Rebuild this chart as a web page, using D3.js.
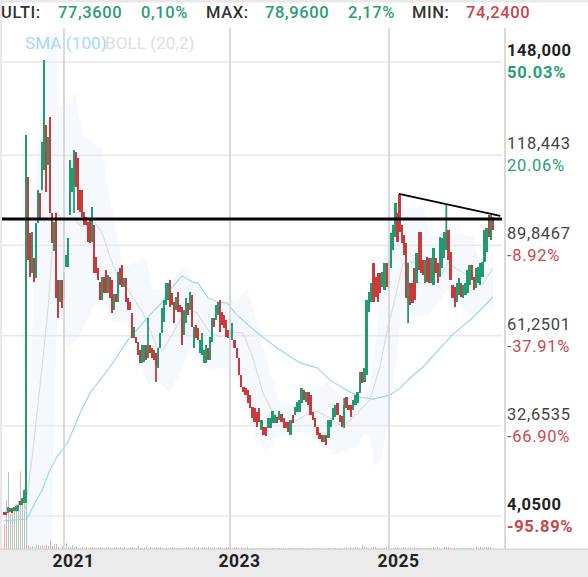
<!DOCTYPE html>
<html>
<head>
<meta charset="utf-8">
<script src="https://cdn.jsdelivr.net/npm/d3@7"></script>
<style>
  html, body { margin: 0; padding: 0; background: #fff; }
  svg { display: block; font-family: Roboto, sans-serif; }
</style>
</head>
<body>
<div id="chart"></div>
<script>
// Candles (one row = 10 bars)
var opens = [
  5.3,5.3,5.0,5.3,6.6,5.6,5.6,5.6,8.8,7.5,
  8.2,8.2,111.5,93.8,81.1,85.9,79.5,96.9,106.5,107.4,
  113.8,128.0,115.3,130.6,100.1,88.1,100.1,78.9,71.9,78.9,
  73.2,83.0,83.0,99.5,106.8,109.0,119.5,117.6,107.4,107.4,
  100.4,98.9,97.3,97.9,90.9,96.3,86.2,82.7,78.2,72.5,
  79.8,82.0,74.8,79.8,78.9,69.4,74.4,71.9,82.7,83.6,
  76.7,79.5,73.2,71.9,68.4,60.5,60.8,59.2,56.7,52.6,
  52.9,58.3,54.2,58.3,57.3,56.7,55.7,51.0,57.3,62.1,
  65.6,70.9,72.5,78.9,74.8,71.9,69.4,75.1,70.9,70.3,
  61.4,65.2,71.6,69.4,74.1,57.3,64.6,63.7,55.7,55.1,
  52.6,52.6,57.3,53.5,59.2,66.8,66.2,67.8,72.5,68.7,
  67.8,66.2,63.0,59.9,59.9,59.9,57.3,54.2,48.8,45.0,
  44.6,44.0,42.4,38.6,38.3,37.0,38.3,31.3,32.3,32.3,
  31.9,31.9,33.5,33.5,35.4,34.5,36.4,35.1,33.9,33.9,
  29.7,36.1,36.1,37.0,37.0,39.9,44.0,40.2,43.4,42.4,
  37.0,35.1,32.3,30.4,29.7,27.5,29.7,28.8,32.3,34.5,
  35.4,39.9,36.1,35.8,32.9,41.8,39.2,39.2,37.7,39.2,
  39.9,43.0,49.7,46.5,48.8,68.7,71.9,84.3,79.8,81.1,
  81.1,76.7,75.7,84.3,76.7,82.7,88.4,92.5,100.1,106.2,
  96.3,93.2,90.6,72.5,77.9,77.9,82.7,77.9,94.1,94.1,
  85.2,77.9,86.2,85.9,77.9,77.3,85.9,84.3,79.8,82.7,
  85.9,88.4,94.7,87.8,77.3,76.7,71.9,74.1,77.9,73.2,
  74.1,74.8,77.3,83.6,79.8,76.3,77.9,77.3,79.8,84.6,
  87.8,99.5,91.6,98.9
]
var closes = [
  4.4,4.4,6.9,6.6,5.0,6.9,7.2,7.5,7.5,9.8,
  12.3,125.0,85.2,79.8,94.1,78.2,96.9,107.4,97.9,122.6,
  148.6,106.8,124.2,100.1,90.6,97.3,73.2,66.8,78.9,70.0,
  81.1,86.8,92.2,116.9,114.4,120.1,108.4,101.1,100.4,98.9,
  96.3,96.3,90.9,90.6,102.0,81.1,81.1,78.9,72.5,79.8,
  74.8,74.8,80.5,73.2,68.4,74.4,71.9,81.4,77.3,76.7,
  79.5,71.9,69.4,69.4,60.5,64.0,58.9,55.1,52.6,58.3,
  58.3,53.5,58.3,55.7,54.2,53.5,51.9,57.3,62.1,70.0,
  72.5,77.9,77.9,70.3,70.9,65.2,73.5,68.7,68.7,58.3,
  69.4,73.2,67.8,75.1,64.0,64.0,60.5,59.9,59.9,62.1,
  56.7,58.3,53.5,60.8,66.8,64.0,70.9,71.9,62.4,64.6,
  63.7,60.8,60.5,63.0,65.2,57.3,54.2,48.8,45.0,43.4,
  42.4,39.9,38.3,35.1,33.9,32.3,33.9,34.5,29.7,29.4,
  35.1,35.1,37.3,36.1,33.5,37.3,33.9,31.9,31.9,30.7,
  34.5,33.5,38.6,40.2,40.8,44.6,40.8,43.4,39.2,36.1,
  34.5,32.3,29.7,28.5,27.5,29.7,26.6,34.5,34.5,38.3,
  39.2,36.1,33.9,32.3,39.2,38.3,37.7,35.4,40.8,42.4,
  43.4,49.7,46.2,51.0,72.5,75.1,77.9,71.9,73.5,71.9,
  74.8,81.4,84.3,76.7,85.2,93.8,96.3,103.3,90.9,94.1,
  90.6,86.8,73.2,84.3,70.9,71.6,72.5,87.4,82.0,81.1,
  80.5,85.2,78.2,77.9,85.9,89.0,81.1,77.9,92.5,92.2,
  94.1,94.1,85.2,78.9,73.2,70.3,77.9,79.5,73.5,77.3,
  77.9,82.0,83.6,78.9,75.7,82.7,83.0,84.3,84.6,94.7,
  95.4,92.5,99.5,94.7
]
// the few bars whose thin wick sticks out well past the body
var wickBars = [35, 72, 76, 164, 193, 211]
var wickHighs = [120.1, 66.8, 55.7, 41.5, 84.3, 102.7]
var wickLows = [100.1, 54.2, 46.5, 31.9, 65.2, 88.4]

var volumes = [
  25,49,77,35,40,42,45,48,78,50,
  60,65,4,2,3,2,4,4,3,4,
  3,4,3,8,3,5,5,2,1,3,
  2,6,2,2,4,2,3,1,1,2,
  1,2,1,1,2,1,1,1,2,1,
  1,2,2,1,1,2,1,1,2,1,
  2,1,1,2,1,1,1,3,1,1,
  2,3,1,2,1,1,2,1,2,1,
  1,1,1,1,2,1,1,1,1,1,
  1,2,1,1,1,2,1,2,1,2,
  1,1,2,1,1,2,1,2,1,1,
  1,2,2,1,1,2,1,1,2,1,
  1,2,1,1,1,1,1,1,1,1,
  1,1,1,1,1,1,1,1,1,1,
  1,1,1,1,1,1,1,1,1,1,
  1,1,1,1,1,1,1,1,1,1,
  1,1,1,1,1,1,1,2,1,2,
  2,1,4,2,2,1,1,2,2,1,
  1,1,1,2,1,1,1,1,2,1,
  1,2,1,1,1,1,2,1,1,1,
  1,1,1,1,1,2,1,2,1,1,
  2,2,2,1,1,1,1,1,1,1,
  1,1,1,1,1,2,1,2,1,2,
  2,2,2,1
]

// SMA (100)
var smaBars = [0,11.5,14.5,19,23,26.5,32,38,43,53,62,71.5,79.5,82,89,94.5,97,102,107,111.5,116,126.4,134,144.3,152,157.6,163.4,171,176.9,184.5,189.2,193.9,200,213.7,222.2,227.9,233]
var smaValues = [2.5,3.1,6.9,12.3,18.6,22.8,27.5,36.7,43.0,51.3,59.9,66.8,72.2,75.1,80.2,78.2,77.9,73.2,71.9,71.6,67.8,61.4,57.3,52.6,51.0,47.2,44.6,41.8,41.1,42.4,44.6,47.8,51.3,61.4,66.2,70.0,73.5]

// BOLL (20,2)
var bollBars = [0,10.5,12,14.5,19,22,24,26.5,29.5,34.5,39,45.5,49,53,57,62,69.5,76.5,79.5,84.5,91.5,96.5,103,108,114.3,118.8,123.3,127.7,132.2,138.4,141,147.4,151.8,157.6,163.4,167.9,175.4,179.9,183.5,185.9,190.6,195.3,208,211.8,215.1,220.8,227.9,233]
var bollValues = [5.6,5.9,12.3,25.0,51.3,69.4,87.4,100.1,97.9,98.5,95.7,97.0,93.8,86.2,79.8,75.7,68.4,57.6,56.7,62.1,70.0,68.4,62.1,60.8,62.4,62.1,54.2,43.0,36.7,33.5,33.5,36.4,37.3,35.1,32.3,35.4,40.8,51.3,64.0,70.3,84.3,84.6,79.8,84.3,82.7,80.5,77.3,82.7]

var upperBars = [11.5,16.5,19,21,26,27,33,35.5,38,39.5,44,46.5,49,51.5,55.5,59,63,69.5,72,74.5,80.5,89,98,103,111.5,116,120.6,125.5,130.9,135.3,141,150,156.3,163.4,172.4,175.4,178.6,180.9,183.6,190.6,200,204.3,207,211.4,216.1,223.6,226.9,233]
var upperValues = [9.1,112.8,141.3,157.2,157.2,133.7,135,138.5,129.6,124.2,123.3,120.7,121,110.6,95.7,84.3,83.6,85.9,83,75.7,75.7,83,76.7,71.9,71.9,72.5,76.3,64,49.4,39.9,39.2,44,46.5,41.8,40.8,44.9,63,82,97.9,101.7,102,91.6,89.3,89.3,93.8,92.5,83,83]
var lowerBars = [11.5,24,24.5,26.5,27,29.5,31.5,36.5,43,48,54.5,62,68,72,76.5,83,88,93,103,114.3,123.3,128.6,134,144.3,150,157.6,159,169.7,172.4,175.4,177.7,180.9,183.6,187.8,190.6,194.8,202.4,208,211.4,217.5,223.6,227.9,233]
var lowerValues = [-6.4,-6.4,25.9,65.2,75.7,64,57.6,59.9,68.4,73.5,65.2,66.2,53.5,45.6,47.2,43.4,49.4,57.6,50.3,51.3,31.3,24.3,29.1,30.7,29.1,25,23.4,25.9,30.4,29.1,19.6,22.8,33.5,54.5,75.7,67.2,67.8,72.5,75.7,70.3,67.1,71.6,69.4]

var priceTicks = [148, 118.443, 89.8467, 61.2501, 32.6535, 4.05]
var priceLabels = ['148,000', '118,443', '89,8467', '61,2501', '32,6535', '4,0500']
var pctLabels = ['50.03%', '20.06%', '-8.92%', '-37.91%', '-66.90%', '-95.89%']
var yearBars = [30, 113, 184]
var yearLabels = ['2021', '2023', '2025']

var headerLabels = ['ULTI:', '77,3600', '0,10%', 'MAX:', '78,9600', '2,17%', 'MIN:', '74,2400']
var headerKinds = ['k', 'g', 'g', 'k', 'g', 'g', 'k', 'r']
var headerLeft = [1, 58, 141, 206, 265, 348, 412, 466]

// drawings on the chart
var levelPrice = 98.2
var levelBars = [-1, 237.3]
var trendBars = [188.7, 236.4]
var trendPrices = [106.2, 99.2]

var width = 588, height = 577
var green = '#229b70', red = '#cb3a3a'

var svg = d3.select('#chart').append('svg')
  .attr('width', width)
  .attr('height', height)

var x = d3.scaleLinear().domain([0, 30, 113, 184, 233]).range([4, 64, 230, 389, 493])
var y = d3.scaleLinear().domain([4.05, 148]).range([516, 62])
var yVol = d3.scaleLinear().domain([0, 100]).range([549, 449])

// frame
svg.append('rect').attr('width', width).attr('height', 2.5).attr('fill', '#e9e9e9')
svg.append('rect').attr('width', 2).attr('height', height).attr('fill', '#e9e9e9')
svg.append('rect').attr('y', 549).attr('width', width).attr('height', 28).attr('fill', '#ebebeb')
svg.append('rect').attr('y', 548.5).attr('width', width).attr('height', 1.5).attr('fill', '#d8d8d8')

svg.append('clipPath').attr('id', 'plot').append('rect')
  .attr('x', 2).attr('y', 28).attr('width', 500).attr('height', 521)

var plot = svg.append('g').attr('clip-path', 'url(#plot)')

// bollinger band
var bandPts = upperBars.map(function(b, i) { return [b, upperValues[i]] })
  .concat(lowerBars.map(function(b, i) { return [b, lowerValues[i]] }).reverse())
plot.append('path')
  .datum(bandPts)
  .attr('d', d3.line().x(function(d) { return x(d[0]) }).y(function(d) { return y(d[1]) }))
  .attr('fill', '#f5f9fe')

// grid
plot.selectAll('.hgrid').data(priceTicks).join('line')
  .attr('class', 'hgrid')
  .attr('x1', 2).attr('x2', 502)
  .attr('y1', function(d) { return y(d) }).attr('y2', function(d) { return y(d) })
  .attr('stroke', '#e9e9e9').attr('stroke-width', 1.6)

svg.selectAll('.vgrid').data(yearBars).join('line')
  .attr('class', 'vgrid')
  .attr('x1', function(d) { return x(d) }).attr('x2', function(d) { return x(d) })
  .attr('y1', 28).attr('y2', 549)
  .attr('stroke', '#d6d6d6').attr('stroke-width', 1.8)

svg.append('line').attr('x1', 505).attr('x2', 505).attr('y1', 28).attr('y2', 549)
  .attr('stroke', '#d6d6d6').attr('stroke-width', 1.8)

// volume
plot.selectAll('.vol').data(volumes).join('rect')
  .attr('class', 'vol')
  .attr('x', function(d, i) { return x(i) - 0.5 })
  .attr('y', function(d) { return yVol(d) })
  .attr('width', 1)
  .attr('height', function(d) { return 549 - yVol(d) })
  .attr('shape-rendering', 'crispEdges')
  .attr('fill', function(d, i) { return closes[i] >= opens[i] ? '#a9cbbc' : '#f3a9a9' })

// indicator lines
function drawLine(bars, values, colour) {
  var line = d3.line().x(function(d) { return x(d) }).y(function(d, i) { return y(values[i]) })
  plot.append('path').datum(bars).attr('d', line)
    .attr('fill', 'none').attr('stroke', colour).attr('stroke-width', 1.1)
}
drawLine(bollBars, bollValues, '#dadada')
drawLine(smaBars, smaValues, '#98d1fb')

// candles
plot.selectAll('.wick').data(wickBars).join('line')
  .attr('class', 'wick')
  .attr('x1', function(d) { return x(d) }).attr('x2', function(d) { return x(d) })
  .attr('y1', function(d, i) { return y(wickHighs[i]) })
  .attr('y2', function(d, i) { return y(wickLows[i]) })
  .attr('stroke', function(d) { return closes[d] >= opens[d] ? green : red })
  .attr('stroke-width', 1.8)

plot.selectAll('.body').data(opens).join('rect')
  .attr('class', 'body')
  .attr('x', function(d, i) { return x(i) - 1.2 })
  .attr('y', function(d, i) { return y(Math.max(d, closes[i])) })
  .attr('width', 2.4)
  .attr('height', function(d, i) { return Math.abs(y(d) - y(closes[i])) })
  .attr('shape-rendering', 'crispEdges')
  .attr('fill', function(d, i) { return closes[i] >= d ? green : red })

// black drawings
svg.append('line')
  .attr('x1', x(levelBars[0])).attr('x2', x(levelBars[1]))
  .attr('y1', y(levelPrice)).attr('y2', y(levelPrice))
  .attr('stroke', '#000').attr('stroke-width', 3)
svg.append('line')
  .attr('x1', x(trendBars[0])).attr('x2', x(trendBars[1]))
  .attr('y1', y(trendPrices[0])).attr('y2', y(trendPrices[1]))
  .attr('stroke', '#000').attr('stroke-width', 1.8)

// legend
svg.append('text').attr('x', 25).attr('y', 49).attr('font-size', 17.2)
  .attr('fill', '#a6d7ff').text('SMA (100)')
svg.append('text').attr('x', 105).attr('y', 49).attr('font-size', 17.2)
  .attr('fill', '#dedede').text('BOLL (20,2)')

// header
svg.selectAll('.head').data(headerLabels).join('text')
  .attr('class', 'head')
  .attr('x', function(d, i) { return headerLeft[i] })
  .attr('y', 18)
  .attr('font-size', 16.5)
  .attr('font-weight', 500)
  .attr('letter-spacing', 0.6)
  .attr('fill', function(d, i) {
    return headerKinds[i] === 'g' ? '#2a9d73' : headerKinds[i] === 'r' ? '#c9444a' : '#333'
  })
  .text(function(d) { return d })

// right hand price scale
var edge = function(i) { return i === 0 || i === priceTicks.length - 1 }
svg.selectAll('.price').data(priceLabels).join('text')
  .attr('class', 'price')
  .attr('x', 507)
  .attr('y', function(d, i) { return y(priceTicks[i]) - 6 })
  .attr('font-size', 16.5)
  .attr('letter-spacing', function(d, i) { return edge(i) ? 0.5 : 0.7 })
  .attr('font-weight', function(d, i) { return edge(i) ? 700 : 400 })
  .attr('fill', function(d, i) { return edge(i) ? '#222' : '#444' })
  .text(function(d) { return d })

svg.selectAll('.pct').data(pctLabels).join('text')
  .attr('class', 'pct')
  .attr('x', 507)
  .attr('y', function(d, i) { return y(priceTicks[i]) + 16 })
  .attr('font-size', 16.5)
  .attr('letter-spacing', 0.7)
  .attr('font-weight', function(d, i) { return edge(i) ? 700 : 400 })
  .attr('fill', function(d) { return d.charAt(0) === '-' ? '#c9474b' : '#2a9d73' })
  .text(function(d) { return d })

// years
svg.selectAll('.year').data(yearLabels).join('text')
  .attr('class', 'year')
  .attr('x', function(d, i) { return x(yearBars[i]) + 9.5 })
  .attr('y', 567)
  .attr('text-anchor', 'middle')
  .attr('font-size', 17.5)
  .attr('font-weight', 700)
  .attr('letter-spacing', 0.4)
  .attr('fill', '#222')
  .text(function(d) { return d })
</script>
</body>
</html>
